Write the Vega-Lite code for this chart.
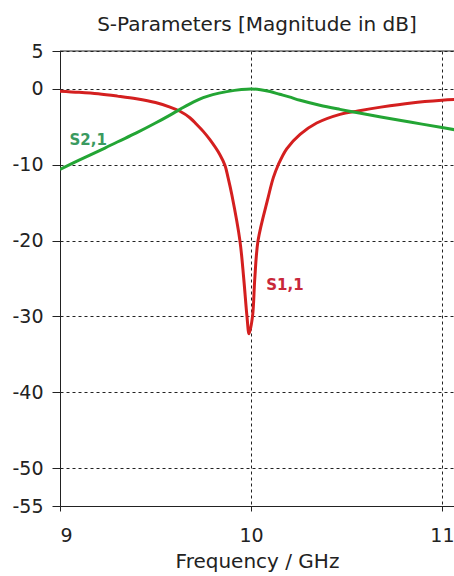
{
  "$schema": "https://vega.github.io/schema/vega-lite/v6.json",
  "width": 394,
  "height": 455,
  "autosize": {"type": "none"},
  "padding": {"left": 60, "top": 51, "right": 0, "bottom": 70},
  "title": {"text": "S-Parameters [Magnitude in dB]", "font": "DejaVu Sans", "fontSize": 20, "fontWeight": "normal", "color": "#222222", "anchor": "middle", "baseline": "bottom", "frame": "group", "offset": 14, "dy": 27},
  "config": {"view": {"stroke": null}, "background": "white"},
  "datasets": {
    "curves": [
      {"f": 9.0, "db": -0.3, "s": "S1,1"},
      {"f": 9.1, "db": -0.45, "s": "S1,1"},
      {"f": 9.2, "db": -0.65, "s": "S1,1"},
      {"f": 9.3, "db": -0.95, "s": "S1,1"},
      {"f": 9.4, "db": -1.3, "s": "S1,1"},
      {"f": 9.5, "db": -1.8, "s": "S1,1"},
      {"f": 9.576, "db": -2.4, "s": "S1,1"},
      {"f": 9.628, "db": -2.95, "s": "S1,1"},
      {"f": 9.68, "db": -3.8, "s": "S1,1"},
      {"f": 9.716, "db": -4.7, "s": "S1,1"},
      {"f": 9.75, "db": -5.6, "s": "S1,1"},
      {"f": 9.785, "db": -6.7, "s": "S1,1"},
      {"f": 9.838, "db": -8.7, "s": "S1,1"},
      {"f": 9.864, "db": -10.1, "s": "S1,1"},
      {"f": 9.88, "db": -11.7, "s": "S1,1"},
      {"f": 9.9, "db": -14.0, "s": "S1,1"},
      {"f": 9.942, "db": -20.0, "s": "S1,1"},
      {"f": 9.962, "db": -25.0, "s": "S1,1"},
      {"f": 9.979, "db": -30.0, "s": "S1,1"},
      {"f": 9.99, "db": -32.3, "s": "S1,1"},
      {"f": 10.008, "db": -30.0, "s": "S1,1"},
      {"f": 10.02, "db": -25.0, "s": "S1,1"},
      {"f": 10.037, "db": -20.0, "s": "S1,1"},
      {"f": 10.089, "db": -14.4, "s": "S1,1"},
      {"f": 10.117, "db": -11.7, "s": "S1,1"},
      {"f": 10.143, "db": -10.0, "s": "S1,1"},
      {"f": 10.187, "db": -7.9, "s": "S1,1"},
      {"f": 10.257, "db": -6.0, "s": "S1,1"},
      {"f": 10.344, "db": -4.5, "s": "S1,1"},
      {"f": 10.466, "db": -3.35, "s": "S1,1"},
      {"f": 10.56, "db": -2.9, "s": "S1,1"},
      {"f": 10.68, "db": -2.4, "s": "S1,1"},
      {"f": 10.84, "db": -1.85, "s": "S1,1"},
      {"f": 11.0, "db": -1.5, "s": "S1,1"},
      {"f": 11.07, "db": -1.4, "s": "S1,1"},
      {"f": 9.0, "db": -10.6, "s": "S2,1"},
      {"f": 9.1, "db": -9.4, "s": "S2,1"},
      {"f": 9.235, "db": -7.8, "s": "S2,1"},
      {"f": 9.3, "db": -7.0, "s": "S2,1"},
      {"f": 9.4, "db": -5.8, "s": "S2,1"},
      {"f": 9.5, "db": -4.5, "s": "S2,1"},
      {"f": 9.576, "db": -3.45, "s": "S2,1"},
      {"f": 9.628, "db": -2.7, "s": "S2,1"},
      {"f": 9.7, "db": -1.7, "s": "S2,1"},
      {"f": 9.75, "db": -1.15, "s": "S2,1"},
      {"f": 9.8, "db": -0.75, "s": "S2,1"},
      {"f": 9.873, "db": -0.36, "s": "S2,1"},
      {"f": 9.95, "db": -0.08, "s": "S2,1"},
      {"f": 10.0, "db": 0.0, "s": "S2,1"},
      {"f": 10.05, "db": -0.1, "s": "S2,1"},
      {"f": 10.1, "db": -0.35, "s": "S2,1"},
      {"f": 10.15, "db": -0.7, "s": "S2,1"},
      {"f": 10.2, "db": -1.05, "s": "S2,1"},
      {"f": 10.257, "db": -1.5, "s": "S2,1"},
      {"f": 10.36, "db": -2.15, "s": "S2,1"},
      {"f": 10.466, "db": -2.7, "s": "S2,1"},
      {"f": 10.56, "db": -3.15, "s": "S2,1"},
      {"f": 10.68, "db": -3.7, "s": "S2,1"},
      {"f": 10.84, "db": -4.4, "s": "S2,1"},
      {"f": 11.0, "db": -5.1, "s": "S2,1"},
      {"f": 11.07, "db": -5.4, "s": "S2,1"}
    ],
    "labels": [
      {"f": 9.05, "db": -6.8, "s": "S2,1"},
      {"f": 10.08, "db": -25.8, "s": "S1,1"}
    ]
  },
  "encoding": {
    "x": {"field": "f", "type": "quantitative",
      "scale": {"domain": [9, 11.063], "nice": false, "zero": false},
      "axis": {"values": [9, 10, 11], "labelExpr": "datum.value + ''", "title": "Frequency / GHz", "titleFont": "DejaVu Sans", "titleFontSize": 20, "titleFontWeight": "normal", "titleColor": "#222222", "titlePadding": 6,
        "labelFont": "DejaVu Sans", "labelFontSize": 19, "labelColor": "#222222", "labelPadding": 15, "tickSize": 5, "tickColor": "#222222", "domainColor": "#222222",
        "grid": true, "gridDash": [3, 3], "gridColor": "#222222", "gridOpacity": 1}},
    "y": {"field": "db", "type": "quantitative",
      "scale": {"domain": [-55, 5], "nice": false, "zero": false},
      "axis": {"values": [5, 0, -10, -20, -30, -40, -50, -55], "labelExpr": "datum.value + ''", "title": null,
        "labelFont": "DejaVu Sans", "labelFontSize": 19, "labelColor": "#222222", "labelPadding": 9, "tickSize": 8, "tickColor": "#222222", "domainColor": "#222222",
        "grid": true, "gridDash": [3, 3], "gridColor": "#222222", "gridOpacity": 1}}
  },
  "layer": [
    {"data": {"values": [{"v": 5}]}, "mark": {"type": "rule", "color": "#222222", "strokeWidth": 1}, "encoding": {"x": null, "y": {"field": "v", "type": "quantitative"}}},
    {"data": {"name": "curves"}, "mark": {"type": "line", "strokeWidth": 3, "interpolate": "catmull-rom", "clip": true},
      "encoding": {"color": {"field": "s", "type": "nominal", "scale": {"domain": ["S1,1", "S2,1"], "range": ["#d41f1f", "#23a534"]}, "legend": null}}},
    {"data": {"name": "labels"}, "mark": {"type": "text", "align": "left", "baseline": "middle", "font": "DejaVu Sans", "fontWeight": "bold", "fontSize": 15},
      "encoding": {"text": {"field": "s"}, "color": {"field": "s", "type": "nominal", "scale": {"domain": ["S1,1", "S2,1"], "range": ["#c8283a", "#3a9a60"]}, "legend": null}}}
  ],
  "resolve": {"scale": {"color": "independent"}}
}
